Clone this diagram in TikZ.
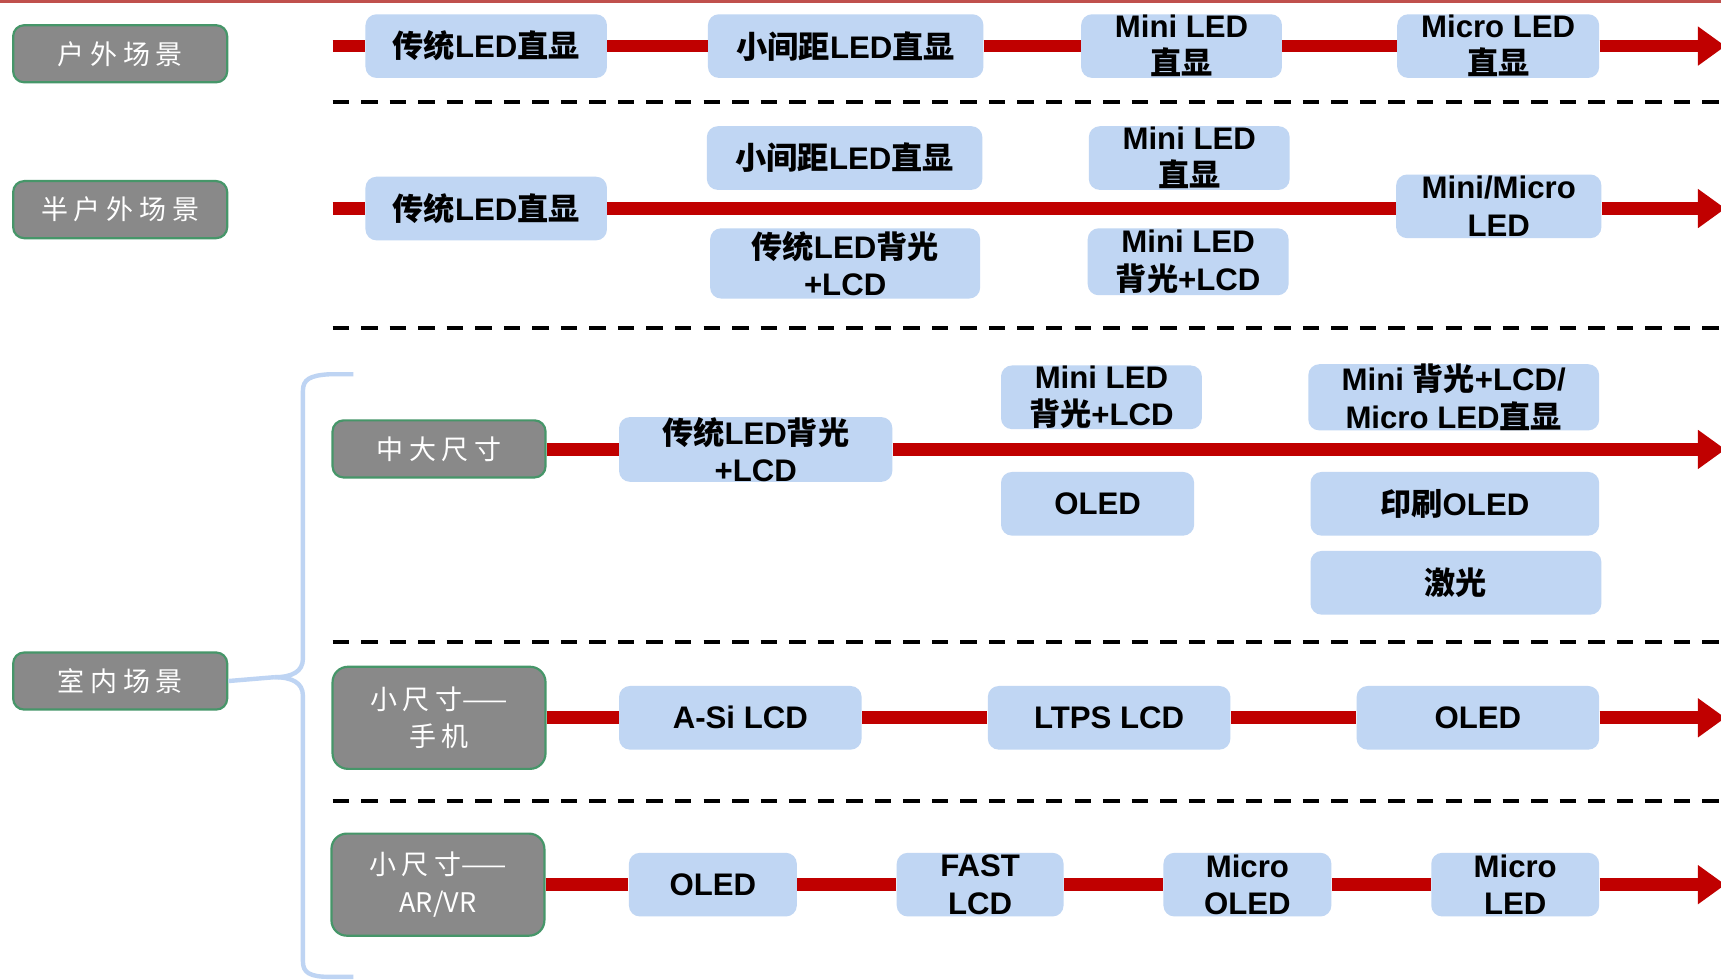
\documentclass[tikz,border=0pt]{standalone}
\usepackage{fontspec}
\setmainfont{Liberation Sans}
\newfontfamily\zhfont{Noto Sans CJK SC}
\usetikzlibrary{arrows.meta}
\definecolor{gfill}{RGB}{137,137,137}
\definecolor{gedge}{RGB}{70,150,105}
\definecolor{bfill}{RGB}{192,214,243}
\definecolor{rline}{RGB}{192,0,0}
\definecolor{toprule}{RGB}{192,80,77}
\definecolor{brc}{RGB}{190,212,243}
\newcommand\zh[1]{{\zhfont\bfseries #1}}
\newcommand\gs{\hspace{2.6pt}}
\tikzset{
 gbox/.style={draw=gedge, line width=1pt, fill=gfill, rounded corners=5pt, text=white, align=center, inner sep=0pt, minimum width=97.5pt, minimum height=26pt, font=\fontsize{12.3}{17}\selectfont\zhfont},
 bbox/.style={fill=bfill, rounded corners=5pt, align=center, inner sep=0pt, minimum height=29pt, font=\fontsize{14.2}{17}\selectfont\bfseries, text=black},
 link/.style={draw=rline, line width=5.8pt},
 arr/.style={link, -{Triangle[length=12.5pt,width=17pt]}},
 sep/.style={draw=black, line width=1.6pt, dash pattern=on 7.5pt off 5.5pt},
 brace/.style={draw=brc, line width=2pt},
}
\begin{document}
\begin{tikzpicture}[x=0.5pt,y=-0.5pt]
\clip (0,0) rectangle (1568,892);
\fill[white] (0,0) rectangle (1568,892);
\fill[toprule] (0,0) rectangle (1568,3);

% dashed separators
\draw[sep] (303,93) -- (1568,93);
\draw[sep] (303,299) -- (1568,299);
\draw[sep] (303,585) -- (1568,585);
\draw[sep] (303,730) -- (1568,730);

% left category boxes
\node[gbox] (g1) at (109.5,49) {户\gs 外\gs 场\gs 景};
\node[gbox] (g2) at (109.5,191) {半\gs 户\gs 外\gs 场\gs 景};
\node[gbox] (g3) at (109.5,620.5) {室\gs 内\gs 场\gs 景};
\node[gbox, minimum width=97pt] (g4) at (400,409) {中\gs 大\gs 尺\gs 寸};
\node[gbox, minimum width=97pt, minimum height=46.5pt, rounded corners=7pt] (g5) at (400,654) {小\gs 尺\gs 寸——\\手\gs 机};
\node[gbox, minimum width=97pt, minimum height=46.5pt, rounded corners=7pt] (g6) at (399,806) {小\gs 尺\gs 寸——\\AR/VR};

% brace
\coordinate (bt) at (250,617);
\draw[brace] (g3.east) -- (bt);
\draw[brace] (322,341) -- (300,341) .. controls (282,342) and (276,346) .. (276,356) -- (276,600) .. controls (276,612) and (266,617) .. (bt);
\draw[brace] (bt) .. controls (266,617) and (276,622) .. (276,634) -- (276,876) .. controls (276,886) and (282,890) .. (300,890) -- (322,890);

% row 1
\node[bbox, minimum width=110pt] (a1) at (443,42) {\zh{传统}LED\zh{直显}};
\node[bbox, minimum width=125.5pt] (a2) at (770.5,42) {\zh{小间距}LED\zh{直显}};
\node[bbox, minimum width=91.5pt] (a3) at (1076.5,42) {Mini LED\\\zh{直显}};
\node[bbox, minimum width=92pt] (a4) at (1365,42) {Micro LED\\\zh{直显}};
\coordinate (s1) at (303,42);
\coordinate (t1) at (1572,42);
\draw[link] (s1) -- (a1);
\draw[link] (a1) -- (a2);
\draw[link] (a2) -- (a3);
\draw[link] (a3) -- (a4);
\draw[arr] (a4) -- (t1);

% row 2
\node[bbox, minimum width=110pt] (b1) at (443,190) {\zh{传统}LED\zh{直显}};
\node[bbox, minimum width=125.5pt] (b2) at (769.5,144) {\zh{小间距}LED\zh{直显}};
\node[bbox, minimum width=123pt, minimum height=32pt] (b3) at (770,240) {\zh{传统}LED\zh{背光}\\+LCD};
\node[bbox, minimum width=91.5pt] (b4) at (1083.5,144) {Mini LED\\\zh{直显}};
\node[bbox, minimum width=91.5pt, minimum height=30.5pt] (b5) at (1082.5,238.5) {Mini LED\\\zh{背光}+LCD};
\node[bbox, minimum width=93.5pt] (b6) at (1365.5,188) {Mini/Micro\\LED};
\coordinate (s2) at (303,190);
\coordinate (t2) at (1572,190);
\draw[link] (s2) -- (b1);
\draw[link] (b1.east) -- (b6.west |- b1.east);
\draw[arr] (b6.east |- t2) -- (t2);

% row 3
\node[bbox, minimum width=124.5pt, minimum height=29.5pt] (c1) at (688.5,409.5) {\zh{传统}LED\zh{背光}\\+LCD};
\node[bbox, minimum width=91.5pt] (c2) at (1003.5,362) {Mini LED\\\zh{背光}+LCD};
\node[bbox, minimum width=88pt] (c3) at (1000,459) {OLED};
\node[bbox, minimum width=132.5pt] (c4) at (1324.5,362) {Mini \zh{背光}+LCD/\\Micro LED\zh{直显}};
\node[bbox, minimum width=131.5pt] (c5) at (1325.5,459) {\zh{印刷}OLED};
\node[bbox, minimum width=132.5pt] (c6) at (1326.5,531) {\zh{激光}};
\coordinate (t3) at (1572,409.5);
\draw[link] (g4.east |- c1.west) -- (c1);
\draw[arr] (c1) -- (t3);

% row 4
\node[bbox, minimum width=110.5pt] (d1) at (674.5,654) {A-Si LCD};
\node[bbox, minimum width=110.5pt] (d2) at (1010.5,654) {LTPS LCD};
\node[bbox, minimum width=110.5pt] (d3) at (1346.5,654) {OLED};
\coordinate (t4) at (1572,654);
\draw[link] (g5) -- (d1);
\draw[link] (d1) -- (d2);
\draw[link] (d2) -- (d3);
\draw[arr] (d3) -- (t4);

% row 5
\node[bbox, minimum width=76.5pt] (e1) at (649.5,806) {OLED};
\node[bbox, minimum width=76pt] (e2) at (893,806) {FAST\\LCD};
\node[bbox, minimum width=76.5pt] (e3) at (1136.5,806) {Micro\\OLED};
\node[bbox, minimum width=76.5pt] (e4) at (1380.5,806) {Micro\\LED};
\coordinate (t5) at (1572,806);
\draw[link] (g6) -- (e1);
\draw[link] (e1) -- (e2);
\draw[link] (e2) -- (e3);
\draw[link] (e3) -- (e4);
\draw[arr] (e4) -- (t5);
\end{tikzpicture}
\end{document}
